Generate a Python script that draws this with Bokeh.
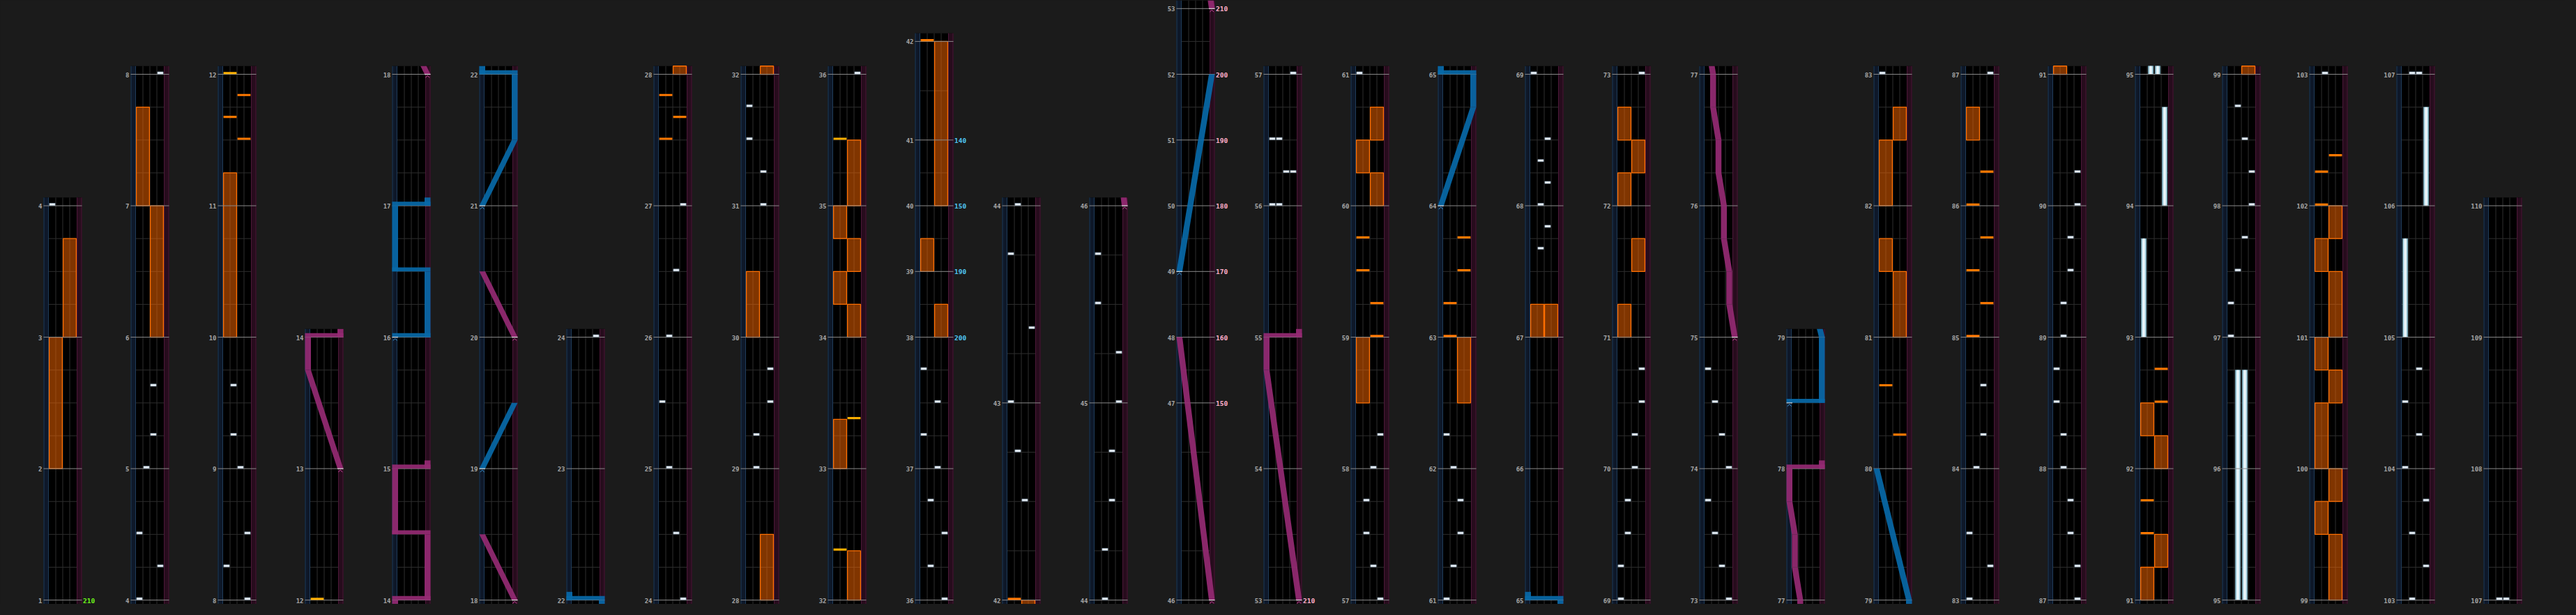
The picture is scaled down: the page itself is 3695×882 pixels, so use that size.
import math
from bokeh.plotting import figure
from bokeh.models import Range1d
from bokeh.core.properties import value
from bokeh.embed import file_html
from bokeh.resources import INLINE

# ---------------- DATA ----------------
COLUMN_FIRST_MEASURE = [1, 4, 8, 12, 14, 18, 22, 24, 28, 32, 36, 42, 44, 46, 53, 57,
                        61, 65, 69, 73, 77, 79, 83, 87, 91, 95, 99, 103, 107]
LAST_MEASURE_END = 110
ODD_MEASURES = [38, 39, 40, 41, 42, 43, 44, 45, 46, 47, 48, 49, 50, 51, 52]
ODD_MEASURE_BEATS = [2, 2, 2, 3, 6, 6, 6, 6, 6, 2, 2, 2, 2, 2, 2]

BPM_MEASURE = [1, 38, 39, 40, 41, 47, 48, 49, 50, 51, 52, 53]
BPM_VALUE = [210, 200, 190, 150, 140, 150, 160, 170, 180, 190, 200, 210]

# BT chips: time as measure + fraction, lane 0..3 (A..D)
BT_TIME = [4.0, 4.25, 4.5, 5.0, 5.25, 5.625,
           8.0, 8.25, 8.5, 9.0, 9.25, 9.625,
           24.0, 24.5, 25.0, 25.5, 26.0, 26.5, 27.0,
           29.0, 29.25, 29.5, 29.75, 31.0, 31.25, 31.5, 31.75,
           36.0, 36.25, 36.5, 36.75, 37.0, 37.25, 37.5, 37.75,
           42.5, 42.75, 43.0, 43.375, 43.75,
           44.0, 44.25, 44.5, 44.75, 45.0, 45.25, 45.5, 45.75,
           56.0, 56.0, 56.25, 56.25, 56.5, 56.5,
           57.0, 57.25, 57.5, 57.75, 58.0, 58.25,
           61.0, 61.25, 61.5, 61.75, 62.0, 62.25,
           67.6667, 67.8333, 68.0, 68.1667, 68.3333, 68.5,
           69.0, 69.25, 69.5, 69.75, 70.0, 70.25, 70.5, 70.75,
           73.0, 73.25, 73.5, 73.75, 74.0, 74.25, 74.5, 74.75,
           83.0, 83.25, 83.5, 84.0, 84.25, 84.625,
           87.0, 87.25, 87.5, 87.75, 88.0, 88.25, 88.5, 88.75,
           89.0, 89.25, 89.5, 89.75, 90.0, 90.25,
           97.0, 97.25, 97.5, 97.75, 98.0, 98.25, 98.5, 98.75,
           103.0, 103.25, 103.5, 103.75, 104.0, 104.25, 104.5, 104.75,
           107.0, 107.0]
BT_LANE = [0, 3, 0, 1, 2, 2,
           3, 0, 3, 2, 1, 1,
           3, 2, 1, 0, 1, 2, 3,
           1, 1, 3, 3, 2, 2, 0, 0,
           3, 1, 3, 1, 2, 0, 2, 0,
           2, 1, 0, 3, 0,
           1, 1, 2, 2, 3, 3, 0, 0,
           0, 1, 2, 3, 0, 1,
           3, 2, 1, 1, 2, 3,
           0, 1, 2, 2, 1, 0,
           1, 2, 1, 2, 1, 2,
           0, 0, 1, 1, 2, 2, 3, 3,
           3, 2, 1, 0, 3, 2, 1, 0,
           0, 3, 0, 1, 2, 2,
           3, 3, 2, 2, 1, 1, 0, 0,
           1, 1, 2, 2, 3, 3,
           0, 0, 1, 2, 3, 3, 2, 1,
           1, 3, 1, 3, 0, 2, 0, 2,
           1, 2]

# FX chips: side 0 = left pair, 1 = right pair
FX_TIME = [11.5, 11.6667, 11.8333, 12.0, 27.5, 27.6667, 27.8333,
           32.375, 33.375, 35.5, 42.0,
           59.0, 59.25, 59.5, 59.75, 63.0, 63.25, 63.5, 63.75,
           80.25, 80.625, 85.0, 85.25, 85.5, 85.75, 86.0, 86.25,
           91.5, 91.75, 92.5, 92.75, 102.0, 102.25, 102.375]
FX_SIDE = [1, 0, 1, 0, 0, 1, 0,
           0, 1, 0, 0,
           1, 1, 0, 0, 0, 0, 1, 1,
           1, 0, 0, 1, 0, 1, 0, 1,
           0, 0, 1, 1, 0, 0, 1]
FX_GOLD = [0, 0, 0, 1, 0, 0, 0,
           1, 1, 1, 0,
           0, 0, 0, 0, 0, 0, 0, 0,
           0, 0, 0, 0, 0, 0, 0, 0,
           0, 0, 0, 0, 0, 0, 0]

# FX holds
FXH_START = [2.0, 3.0, 6.0, 7.0, 10.0, 28.0, 30.0, 32.0, 33.0,
             34.0, 34.25, 34.5, 34.75, 35.0, 38.0, 39.0, 40.0, 58.5,
             60.0, 60.25, 60.5, 62.5, 67.0, 67.0,
             71.0, 71.5, 72.0, 72.25, 72.5, 81.0, 81.5, 82.0, 82.5, 86.5,
             91.0, 91.25, 92.0, 92.25,
             99.0, 99.5, 99.75, 100.0, 100.5, 100.75, 101.0, 101.5, 101.75]
FXH_END = [3.0, 3.75, 7.0, 7.75, 11.25, 28.5, 30.5, 32.375, 33.375,
           34.25, 34.5, 34.75, 35.0, 35.5, 38.5, 39.5, 42.0, 59.0,
           60.25, 60.5, 60.75, 63.0, 67.25, 67.25,
           71.25, 71.75, 72.25, 72.5, 72.75, 81.5, 81.75, 82.5, 82.75, 86.75,
           91.25, 91.5, 92.25, 92.5,
           99.5, 99.75, 100.0, 100.5, 100.75, 101.0, 101.5, 101.75, 102.0]
FXH_SIDE = [0, 1, 1, 0, 0, 1, 0, 1, 0,
            1, 0, 1, 0, 1, 1, 0, 1, 0,
            1, 0, 1, 1, 0, 1,
            0, 1, 0, 1, 0, 1, 0, 0, 1, 0,
            0, 1, 1, 0,
            1, 0, 1, 0, 1, 0, 1, 0, 1]

# BT holds
BTH_START = [93.0, 94.0, 95.0, 95.0, 105.0, 106.0]
BTH_END = [93.75, 94.75, 96.75, 96.75, 105.75, 106.75]
BTH_LANE = [0, 3, 1, 2, 0, 3]

# Lasers: side 0 = blue (left knob), 1 = pink (right knob); pos 0..1
LASER_SIDE = [1, 0, 1, 0, 1, 0, 1, 0, 1, 0, 1, 0]
LASER_TIMES = [
    [13.0, 13.75, 14.0, 14.0, 14.5, 14.5, 15.0, 15.0],
    [16.0, 16.0, 16.5, 16.5, 17.0, 17.0],
    [18.0, 18.5],
    [19.0, 19.5],
    [20.0, 20.5],
    [21.0, 21.5, 22.0, 22.0],
    [46.0, 48.0],
    [49.0, 52.0],
    [53.0, 54.75, 55.0, 55.0],
    [64.0, 64.75, 65.0, 65.0],
    [75.0, 75.25, 75.5, 75.75, 76.0, 76.25, 76.5, 76.75, 77.0, 77.25, 77.5, 77.75, 78.0, 78.0],
    [78.5, 78.5, 79.0, 80.0],
]
LASER_POS = [
    [1, 0, 0, 1, 1, 0, 0, 1],
    [0, 1, 1, 0, 0, 1],
    [1, 0],
    [0, 1],
    [1, 0],
    [0, 1, 1, 0],
    [1, 0],
    [0, 1],
    [1, 0, 0, 1],
    [0, 1, 1, 0],
    [1, 0.833, 0.833, 0.667, 0.667, 0.5, 0.5, 0.333, 0.333, 0.167, 0.167, 0, 0, 1],
    [0, 1, 1, 0],
]

# ---------------- GEOMETRY / STYLE ----------------
X0, COL_STEP, COL_W = 70.0, 125.0, 55.0
STRIP, LANE_W = 7.5, 10.0
BASE_Y, PX_BEAT, PAD_B = 876.0, 48.0, 0.25
LASER_W, SLAM_H, TAIL_B = 8.5, 6.0, 0.25

BG = "#1b1b1b"
BLUE_STRIP, BLUE_EDGE = "#0e1829", "#1f3c5a"
PINK_STRIP, PINK_EDGE = "#270c1d", "#4c1838"
GRID = "#2e2e2e"
MEASURE_LINE = "#8a8a8a"
LABEL_COL = "#a6a6a6"
LASER_COL = ["#0869a8", "#952a73"]
CARET_COL = ["#3f9ddc", "#d04aa2"]

mlen = {m: 4 for m in range(1, LAST_MEASURE_END + 1)}
for m, b in zip(ODD_MEASURES, ODD_MEASURE_BEATS):
    mlen[m] = b
mstart = {}
acc = 0.0
for m in range(1, LAST_MEASURE_END + 1):
    mstart[m] = acc
    acc += mlen[m]


def beat(t):
    m = int(math.floor(t + 1e-6))
    if m > LAST_MEASURE_END:
        m = LAST_MEASURE_END
    return mstart[m] + (t - m) * mlen[m]


cols = []
for i, fm in enumerate(COLUMN_FIRST_MEASURE):
    nm = COLUMN_FIRST_MEASURE[i + 1] if i + 1 < len(COLUMN_FIRST_MEASURE) else LAST_MEASURE_END
    b0, b1 = mstart[fm], mstart[nm]
    cols.append(dict(left=X0 + COL_STEP * i, m0=fm, m1=nm, b0=b0, b1=b1,
                     lo=b0 - PAD_B, hi=b1 + PAD_B))


def Y(col, b):
    return BASE_Y - (b - col["b0"]) * PX_BEAT


def laser_x(col, pos):
    return col["left"] + LASER_W / 2 + pos * (COL_W - LASER_W)


p = figure(width=3679, height=866, x_range=Range1d(8, 3687), y_range=Range1d(882, 0),
           output_backend="svg", toolbar_location=None, min_border=0,
           x_axis_location=None, y_axis_location=None,
           background_fill_color=BG, border_fill_color=BG, outline_line_color=None)
p.grid.visible = False

# ---- column boxes ----
box = dict(l=[], r=[], t=[], b=[], c=[])
segs = dict(x0=[], y0=[], x1=[], y1=[], c=[])
mlines = dict(x0=[], y0=[], x1=[], y1=[])


def add_quad(d, l, r, t, b, c):
    d["l"].append(l); d["r"].append(r); d["t"].append(t); d["b"].append(b); d["c"].append(c)


def add_seg(x0, y0, x1, y1, c):
    segs["x0"].append(x0); segs["y0"].append(y0); segs["x1"].append(x1); segs["y1"].append(y1); segs["c"].append(c)


for col in cols:
    L = col["left"]
    top = Y(col, col["hi"])
    bot = BASE_Y + 30
    add_quad(box, L, L + COL_W, top, bot, "#000000")
    add_quad(box, L, L + STRIP, top, bot, BLUE_STRIP)
    add_quad(box, L + COL_W - STRIP, L + COL_W, top, bot, PINK_STRIP)
    for xe in (L + 0.5, L + STRIP - 0.5):
        add_seg(xe, top, xe, bot, BLUE_EDGE)
    for xe in (L + COL_W - STRIP + 0.5, L + COL_W - 0.5):
        add_seg(xe, top, xe, bot, PINK_EDGE)
    for k in range(1, 4):
        xl = L + STRIP + LANE_W * k
        add_seg(xl, top, xl, bot, GRID)
    for m in range(col["m0"], col["m1"]):
        div = 4 if mlen[m] >= 4 else 2
        for k in range(1, div):
            yy = Y(col, mstart[m] + mlen[m] * k / div)
            add_seg(L + STRIP, yy, L + COL_W - STRIP, yy, GRID)
    for m in range(col["m0"], col["m1"] + 1):
        yy = Y(col, mstart[m])
        mlines["x0"].append(L); mlines["x1"].append(L + COL_W)
        mlines["y0"].append(yy); mlines["y1"].append(yy)

p.quad(left=box["l"], right=box["r"], top=box["t"], bottom=box["b"],
       fill_color=box["c"], line_color=None)
p.segment(x0=segs["x0"], y0=segs["y0"], x1=segs["x1"], y1=segs["y1"],
          line_color=segs["c"], line_width=1)

# ---- FX holds ----
fxh = dict(l=[], r=[], t=[], b=[], c=[])
for s, e, side in zip(FXH_START, FXH_END, FXH_SIDE):
    bs, be = beat(s), beat(e)
    for col in cols:
        lo, hi = max(bs, col["lo"]), min(be, col["hi"])
        if hi <= lo:
            continue
        xl = col["left"] + STRIP + 2 * LANE_W * side
        add_quad(fxh, xl + 0.6, xl + 2 * LANE_W - 0.6, Y(col, hi), Y(col, lo), "#ff6a00")
p.quad(left=fxh["l"], right=fxh["r"], top=fxh["t"], bottom=fxh["b"],
       fill_color="#ff6a00", fill_alpha=0.5, line_color="#ff6f00", line_width=1.3)

# ---- BT holds ----
bth_o = dict(l=[], r=[], t=[], b=[], c=[])
bth_i = dict(l=[], r=[], t=[], b=[], c=[])
for s, e, lane in zip(BTH_START, BTH_END, BTH_LANE):
    bs, be = beat(s), beat(e)
    for col in cols:
        lo, hi = max(bs, col["lo"]), min(be, col["hi"])
        if hi <= lo:
            continue
        xc = col["left"] + STRIP + LANE_W * lane + LANE_W / 2
        add_quad(bth_o, xc - 3.6, xc + 3.6, Y(col, hi), Y(col, lo), "#9fc8d8")
        add_quad(bth_i, xc - 1.6, xc + 1.6, Y(col, hi), Y(col, lo), "#f2fbff")
p.quad(left=bth_o["l"], right=bth_o["r"], top=bth_o["t"], bottom=bth_o["b"],
       fill_color="#a8d0de", line_color="#6f9fb2", line_width=0.8)
p.quad(left=bth_i["l"], right=bth_i["r"], top=bth_i["t"], bottom=bth_i["b"],
       fill_color="#eef8fc", line_color=None)

# measure lines
p.segment(x0=mlines["x0"], y0=mlines["y0"], x1=mlines["x1"], y1=mlines["y1"],
          line_color=MEASURE_LINE, line_width=1)

# ---- lasers ----
lz = {0: dict(xs=[], ys=[]), 1: dict(xs=[], ys=[])}
carets = dict(xs=[], ys=[], c=[])
starts = dict(x0=[], y0=[], x1=[], y1=[])
for side, times, poss in zip(LASER_SIDE, LASER_TIMES, LASER_POS):
    pts = [(beat(t), ps) for t, ps in zip(times, poss)]
    for col in cols:
        lo_v, hi_v = col["lo"], col["hi"]
        polys = lz[side]
        for (ba, pa), (bb, pb) in zip(pts[:-1], pts[1:]):
            if abs(bb - ba) < 1e-9:
                if lo_v <= ba <= hi_v:
                    xa, xb = laser_x(col, pa), laser_x(col, pb)
                    l, r = min(xa, xb) - LASER_W / 2, max(xa, xb) + LASER_W / 2
                    yy = Y(col, ba)
                    polys["xs"].append([l, r, r, l])
                    polys["ys"].append([yy, yy, yy - SLAM_H, yy - SLAM_H])
            else:
                lo, hi = max(ba, lo_v), min(bb, hi_v)
                if hi <= lo:
                    continue
                plo = pa + (pb - pa) * (lo - ba) / (bb - ba)
                phi = pa + (pb - pa) * (hi - ba) / (bb - ba)
                x1, x2 = laser_x(col, plo), laser_x(col, phi)
                y1, y2 = Y(col, lo), Y(col, hi)
                polys["xs"].append([x1 - LASER_W / 2, x1 + LASER_W / 2, x2 + LASER_W / 2, x2 - LASER_W / 2])
                polys["ys"].append([y1, y1, y2, y2])
        # tail after a closing slam
        if len(pts) >= 2 and abs(pts[-1][0] - pts[-2][0]) < 1e-9:
            be = pts[-1][0]
            lo, hi = max(be, lo_v), min(be + TAIL_B, hi_v)
            if hi > lo:
                xc = laser_x(col, pts[-1][1])
                polys["xs"].append([xc - LASER_W / 2, xc + LASER_W / 2, xc + LASER_W / 2, xc - LASER_W / 2])
                polys["ys"].append([Y(col, lo), Y(col, lo), Y(col, hi), Y(col, hi)])
        # start marker
        b_s, p_s = pts[0]
        if lo_v <= b_s <= hi_v:
            xc = laser_x(col, p_s)
            yy = Y(col, b_s)
            carets["xs"].append([xc - 3, xc, xc + 3])
            carets["ys"].append([yy + 5, yy + 2, yy + 5])
            carets["c"].append(CARET_COL[side])
            starts["x0"].append(xc - LASER_W / 2); starts["x1"].append(xc + LASER_W / 2)
            starts["y0"].append(yy); starts["y1"].append(yy)

for side in (0, 1):
    p.patches(xs=lz[side]["xs"], ys=lz[side]["ys"], fill_color=LASER_COL[side],
              fill_alpha=0.92, line_color=None)
p.multi_line(xs=carets["xs"], ys=carets["ys"], line_color=carets["c"], line_width=1)
p.segment(x0=starts["x0"], y0=starts["y0"], x1=starts["x1"], y1=starts["y1"],
          line_color="#f0f0f0", line_width=1)

# ---- chips ----
chip = dict(l=[], r=[], t=[], b=[], c=[])
for t, lane in zip(BT_TIME, BT_LANE):
    bt = beat(t)
    for col in cols:
        if col["lo"] <= bt <= col["hi"]:
            xl = col["left"] + STRIP + LANE_W * lane
            yy = Y(col, bt)
            add_quad(chip, xl + 0.9, xl + LANE_W - 0.9, yy - 3.6, yy - 0.4, "#e8eef4")
p.quad(left=chip["l"], right=chip["r"], top=chip["t"], bottom=chip["b"],
       fill_color="#eaf0f6", line_color="#8ea6bc", line_width=0.6)

fxc = dict(l=[], r=[], t=[], b=[], c=[])
for t, side, gold in zip(FX_TIME, FX_SIDE, FX_GOLD):
    bt = beat(t)
    for col in cols:
        if col["lo"] <= bt <= col["hi"]:
            xl = col["left"] + STRIP + 2 * LANE_W * side
            yy = Y(col, bt)
            add_quad(fxc, xl + 0.6, xl + 2 * LANE_W - 0.6, yy - 3.4, yy - 0.2,
                     "#ffb000" if gold else "#ff7800")
p.quad(left=fxc["l"], right=fxc["r"], top=fxc["t"], bottom=fxc["b"],
       fill_color=fxc["c"], line_color=None)

# ---- labels ----
lab = dict(x=[], y=[], t=[])
bpm_lab = dict(x=[], y=[], t=[], c=[])
bpm_col = {}
prev = None
for m, v in zip(BPM_MEASURE, BPM_VALUE):
    if prev is None:
        c = "#6cf21a"
    elif v < prev:
        c = "#4fc6f5"
    else:
        c = "#ffadc9"
    bpm_col[m] = (v, c)
    prev = v
for col in cols:
    for m in range(col["m0"], col["m1"] + 1):
        yy = Y(col, mstart[m])
        lab["x"].append(col["left"] - 2)
        lab["y"].append(yy + 0.5)
        lab["t"].append(str(m))
        if m in bpm_col:
            v, c = bpm_col[m]
            bpm_lab["x"].append(col["left"] + COL_W + 1.5)
            bpm_lab["y"].append(yy + 0.5)
            bpm_lab["t"].append(str(v))
            bpm_lab["c"].append(c)

p.text(x=lab["x"], y=lab["y"], text=lab["t"], text_font=value("DejaVu Sans Mono"),
       text_font_style="bold", text_font_size="9px", text_color=LABEL_COL,
       text_align="right", text_baseline="alphabetic")
p.text(x=bpm_lab["x"], y=bpm_lab["y"], text=bpm_lab["t"], text_font=value("DejaVu Sans Mono"),
       text_font_style="bold", text_font_size="9.5px", text_color=bpm_lab["c"],
       text_align="left", text_baseline="alphabetic")

html = file_html(p, INLINE)
html = html.replace("<head>", "<head><style>html,body{background:#1b1b1b;}</style>", 1)
open("out.html", "w").write(html)
